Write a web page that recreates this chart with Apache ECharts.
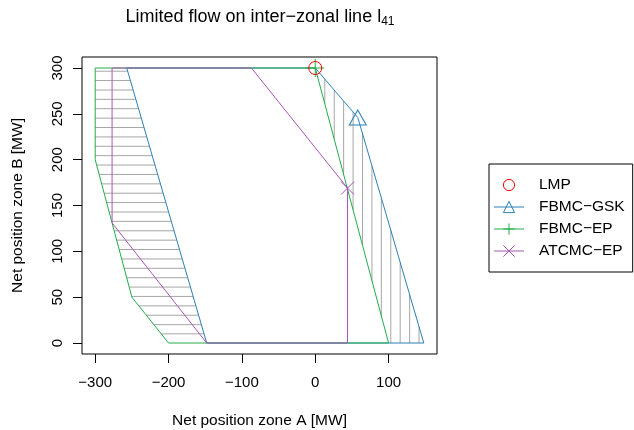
<!DOCTYPE html>
<html>
<head>
<meta charset="utf-8">
<title>Limited flow on inter-zonal line</title>
<script src="https://cdn.jsdelivr.net/npm/echarts@6/dist/echarts.min.js"></script>
<style>
  html, body { margin: 0; padding: 0; background: #fff; }
  #chart { width: 634px; height: 430px; }
</style>
</head>
<body>
<div id="chart"></div>
<script>
// tick labels
var xTicks = [-300, -200, -100, 0, 100];
var yTicks = [0, 50, 100, 150, 200, 250, 300];

// corner points of each domain [zone A, zone B] in MW
var gskPoly = [[-257, 300], [0, 300], [58, 246], [148, 0], [-148, 0], [-257, 300]];
var epPoly = [[-300, 300], [0, 300], [100, 0], [-200, 0], [-250, 50], [-300, 200], [-300, 300]];
var atcPoly = [[-277, 300], [-87, 300], [44, 169], [44, 0], [-148, 0], [-277, 131], [-277, 300]];

// marked solutions
var lmpPoint = [0, 300];
var gskPoint = [58, 246];
var epPoint = [0, 300];
var atcPoint = [44, 169];

// hatching lines (horizontal on the left, vertical on the right)
var hatchY = [10, 20, 30.3, 40.5, 50.8, 61, 71.2, 81.5, 91.7, 102, 112.2, 122.4, 132.7, 142.9, 153.2,
  163.4, 173.6, 183.9, 194.1, 204.4, 214.6, 224.8, 235.1, 245.3, 255.6, 265.8, 276, 286.3, 296.5];
var hatchX = [13, 25.9, 38.7, 51.6, 64.4, 77.3, 90.1, 103, 115.8, 128.7, 141.5];

var font = '"Liberation Sans", Arial, Helvetica, sans-serif';
var red = '#ff0000', blue = '#2a80b9', green = '#22ad4a', purple = '#a855b5';
var plusSym = 'path://M5,0L5,10M0,5L10,5';
var crossSym = 'path://M0,0L10,10M0,10L10,0';

// where the edges of a polygon cross the line dim == v
function crossings(poly, dim, v) {
  var o = 1 - dim, out = [];
  for (var i = 0; i < poly.length - 1; i++) {
    var a = poly[i], b = poly[i + 1];
    if (a[dim] === b[dim]) continue;
    if (v < Math.min(a[dim], b[dim]) || v > Math.max(a[dim], b[dim])) continue;
    var t = (v - a[dim]) / (b[dim] - a[dim]);
    out.push(a[o] + t * (b[o] - a[o]));
  }
  return out.sort(function (p, q) { return p - q; });
}

var hatch = [];
hatchY.forEach(function (y) {
  var g = crossings(epPoly, 1, y), b = crossings(gskPoly, 1, y);
  if (g.length && b.length && g[0] < b[0]) hatch.push([g[0], y, b[0], y]);
});
hatchX.forEach(function (x) {
  var g = crossings(epPoly, 0, x), b = crossings(gskPoly, 0, x);
  if (!b.length) return;
  var lo = g.length ? g[g.length - 1] : 0, hi = b[b.length - 1];
  if (lo < hi) hatch.push([x, lo, x, hi]);
});

function polyData(poly, mark, size) {
  return poly.map(function (p) {
    if (p[0] === mark[0] && p[1] === mark[1]) return { value: p, symbolSize: size };
    return { value: p, symbol: 'none' };
  });
}

function lineSeries(name, poly, mark, symbol, size, color) {
  return {
    name: name, type: 'line', data: polyData(poly, mark, size),
    symbol: symbol, showSymbol: true, silent: true,
    lineStyle: { color: color, width: 1 },
    itemStyle: { color: 'transparent', borderColor: color, borderWidth: 1 }
  };
}

var myChart = echarts.init(document.getElementById('chart'), null, { renderer: 'canvas' });

var option = {
  animation: false,
  backgroundColor: '#fff',
  title: {
    text: '{a|Limited flow on inter\u2212zonal line l}{b|41}',
    left: 260, top: 6, padding: 0, textAlign: 'center',
    textStyle: {
      fontWeight: 'normal',
      rich: {
        a: { fontFamily: font, fontSize: 18, fontWeight: 'normal', color: '#000', lineHeight: 22 },
        b: { fontFamily: font, fontSize: 12, fontWeight: 'normal', color: '#000', lineHeight: 8, verticalAlign: 'bottom' }
      }
    }
  },
  legend: {
    orient: 'vertical', left: 489, top: 164,
    itemWidth: 30, itemHeight: 14, itemGap: 6,
    padding: [13, 8, 13, 4],
    borderColor: '#000', borderWidth: 1, borderRadius: 0,
    selectedMode: false,
    textStyle: { fontFamily: font, fontSize: 15.5, color: '#000', padding: [0, 0, 0, 10] },
    data: [
      { name: 'LMP', itemStyle: { color: 'transparent', borderColor: red, borderWidth: 1 }, lineStyle: { opacity: 0 } },
      { name: 'FBMC\u2212GSK', itemStyle: { color: 'transparent', borderColor: blue, borderWidth: 1 }, lineStyle: { color: blue, width: 1 } },
      { name: 'FBMC\u2212EP', itemStyle: { color: 'transparent', borderColor: green, borderWidth: 1 }, lineStyle: { color: green, width: 1 } },
      { name: 'ATCMC\u2212EP', itemStyle: { color: 'transparent', borderColor: purple, borderWidth: 1 }, lineStyle: { color: purple, width: 1 } }
    ]
  },
  grid: {
    left: 82, right: 197, top: 57, bottom: 76,
    show: true, borderColor: '#000', borderWidth: 1,
    containLabel: false, outerBoundsMode: 'none'
  },
  xAxis: {
    type: 'value', min: -318, max: 166,
    name: 'Net position zone A [MW]', nameLocation: 'middle', nameGap: 59,
    nameTextStyle: { fontFamily: font, fontSize: 15.5, color: '#000' },
    splitLine: { show: false },
    axisLine: { show: false, onZero: false },
    axisTick: { show: true, customValues: xTicks, length: 9, lineStyle: { color: '#000' } },
    axisLabel: {
      customValues: xTicks, margin: 21, fontFamily: font, fontSize: 15, color: '#000',
      formatter: function (v) { return String(v).replace('-', '\u2212'); }
    }
  },
  yAxis: {
    type: 'value', min: -12, max: 312,
    name: 'Net position zone B [MW]', nameLocation: 'middle', nameGap: 56, nameRotate: 90,
    nameTextStyle: { fontFamily: font, fontSize: 15.5, color: '#000' },
    splitLine: { show: false },
    axisLine: { show: false, onZero: false },
    axisTick: { show: true, customValues: yTicks, length: 9, lineStyle: { color: '#000' } },
    axisLabel: { customValues: yTicks, rotate: 90, margin: 17, fontFamily: font, fontSize: 15, color: '#000' }
  },
  series: [
    {
      type: 'custom', silent: true, data: hatch,
      encode: { x: [0, 2], y: [1, 3] },
      renderItem: function (params, api) {
        var p1 = api.coord([api.value(0), api.value(1)]);
        var p2 = api.coord([api.value(2), api.value(3)]);
        return {
          type: 'line',
          shape: { x1: p1[0], y1: p1[1], x2: p2[0], y2: p2[1] },
          style: { stroke: '#a6a6a6', lineWidth: 1 }
        };
      }
    },
    lineSeries('FBMC\u2212GSK', gskPoly, gskPoint, 'triangle', [17, 15], blue),
    lineSeries('FBMC\u2212EP', epPoly, epPoint, plusSym, 18, green),
    lineSeries('ATCMC\u2212EP', atcPoly, atcPoint, crossSym, 13, purple),
    {
      name: 'LMP', type: 'line', data: [lmpPoint], symbol: 'circle', symbolSize: 13,
      showSymbol: true, silent: true,
      lineStyle: { opacity: 0 },
      itemStyle: { color: 'transparent', borderColor: red, borderWidth: 1 }
    }
  ]
};

myChart.setOption(option);
</script>
</body>
</html>
